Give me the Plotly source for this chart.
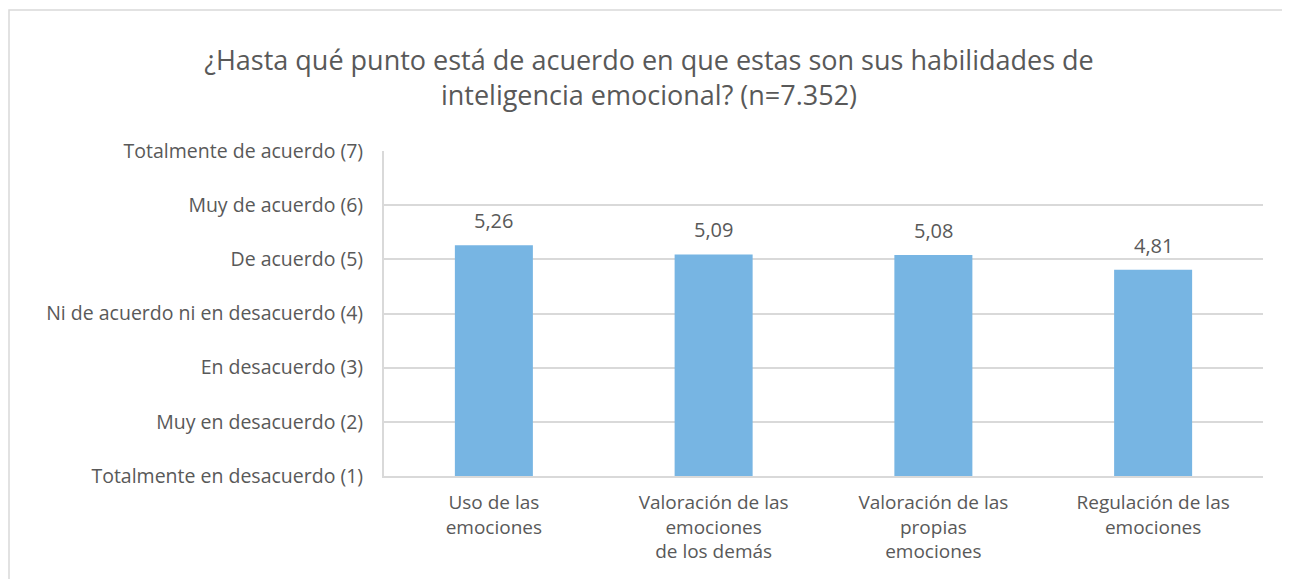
import plotly.graph_objects as go

categories = [
    "Uso de las<br>emociones",
    "Valoración de las<br>emociones<br>de los demás",
    "Valoración de las<br>propias<br>emociones",
    "Regulación de las<br>emociones",
]
values = [5.26, 5.09, 5.08, 4.81]
scale_vals = [1, 2, 3, 4, 5, 6, 7]
scale_labels = [
    "Totalmente en desacuerdo (1)",
    "Muy en desacuerdo (2)",
    "En desacuerdo (3)",
    "Ni de acuerdo ni en desacuerdo (4)",
    "De acuerdo (5)",
    "Muy de acuerdo (6)",
    "Totalmente de acuerdo (7)",
]
title_text = "¿Hasta qué punto está de acuerdo en que estas son sus habilidades de<br>inteligencia emocional? (n=7.352)"

OFF = 8  # browser body margin
W, H = 1290 - OFF, 579 - OFF
L, R, T, B = 384 - OFF, 1263 - OFF, 151 - OFF, 476 - OFF
FONT = "'Open Sans', 'Noto Sans', sans-serif"
TXT = "#595959"
GRID = "#d9d9d9"

fig = go.Figure()
fig.add_trace(go.Bar(
    x=categories, y=values,
    marker=dict(color="#77B5E3", line=dict(width=0)),
    hoverinfo="x+y",
))

for c, v in zip(categories, values):
    fig.add_annotation(x=c, y=v, text=f"{v:.2f}".replace(".", ","),
                       showarrow=False, yanchor="bottom", yshift=9,
                       font=dict(size=20, color=TXT, family=FONT))

pw, ph = R - L, B - T
fig.add_shape(type="rect", xref="paper", yref="paper",
              x0=(1 - L) / pw, x1=(W + 5 - L) / pw,
              y0=(B - (H + 5)) / ph, y1=(B - (10 - OFF)) / ph,
              line=dict(color=GRID, width=1.5), fillcolor="rgba(0,0,0,0)", layer="below")

fig.update_layout(
    width=W, height=H,
    margin=dict(l=L, r=W - R, t=T, b=H - B, pad=0),
    paper_bgcolor="white", plot_bgcolor="white",
    separators=",.",
    bargap=0.645,
    showlegend=False,
    font=dict(family=FONT, color=TXT, size=17),
    title=dict(text=title_text, x=0.5, xanchor="center", xref="container",
               y=1 - (70 - OFF) / H, yanchor="top",
               font=dict(size=27, color=TXT, family=FONT)),
    xaxis=dict(showgrid=False, showline=True, linecolor=GRID, linewidth=2,
               ticks="", tickfont=dict(size=19, color=TXT, family=FONT),
               ticklabelstandoff=8),
    yaxis=dict(range=[1, 7], tickvals=scale_vals, ticktext=scale_labels,
               showgrid=True, gridcolor=GRID, gridwidth=2,
               showline=True, linecolor=GRID, linewidth=2,
               zeroline=False, ticks="", ticklabelstandoff=15,
               tickfont=dict(size=19.5, color=TXT, family=FONT)),
)

fig.write_html("out.html")
